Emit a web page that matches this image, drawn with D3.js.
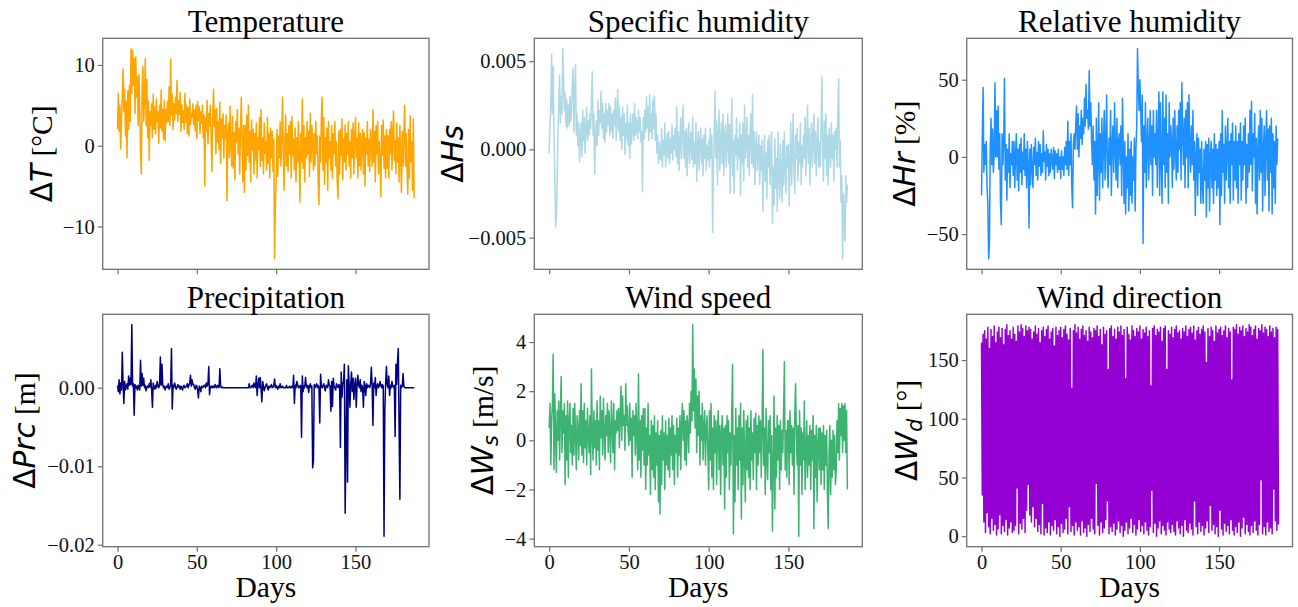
<!DOCTYPE html>
<html><head><meta charset="utf-8">
<script src="https://cdn.jsdelivr.net/npm/d3@7"></script>
<style>html,body{margin:0;padding:0;background:#fff}svg{display:block}</style>
</head><body>
<svg id="chart" width="1298" height="607"></svg>
<script>
// ---------------- data (two samples per day, day 0 .. 187) ----------------
const temperature = [
2.1,6.5,1.8,5.0,-0.4,3.5,6.0,9.5,4.2,7.0,1.2,5.5,-1.5,6.8,2.0,7.5,3.0,12.0,6.5,11.8,
7.5,10.8,4.0,11.0,6.0,8.5,2.5,8.8,4.5,-0.8,-3.5,7.0,9.8,3.0,6.0,10.8,2.5,8.2,1.0,5.5,
-1.8,4.2,2.5,5.2,1.0,6.4,2.0,4.8,1.5,5.8,3.0,4.2,0.3,5.0,2.2,6.9,1.8,4.5,0.8,5.6,
0.6,4.5,2.8,5.5,3.0,7.3,2.5,10.7,3.8,6.4,2.0,5.2,3.2,6.0,4.0,8.1,3.0,5.6,3.9,6.6,
1.8,5.1,2.9,4.3,2.0,6.5,3.0,5.0,1.5,4.7,1.2,5.8,2.6,4.0,3.5,5.2,2.6,4.4,1.8,5.0,
0.9,5.5,3.1,4.8,1.5,4.2,2.8,5.0,1.0,3.8,-5.0,3.5,1.8,5.6,0.2,4.0,2.5,5.0,1.0,-3.2,
3.5,7.0,2.4,4.5,-1.0,4.6,0.5,3.0,-0.5,5.4,-2.2,3.3,1.0,4.0,-1.5,2.5,1.0,3.8,-6.8,1.5,
2.8,-1.5,4.9,0.3,-2.5,3.6,-2.8,1.6,-4.2,3.0,0.5,4.5,-1.0,2.2,-3.5,1.8,6.0,0.8,-4.5,2.5,
-5.8,2.5,-3.0,3.8,-1.2,5.0,-2.0,1.8,-4.5,3.2,-0.5,2.0,-3.5,1.5,-1.8,2.8,-4.0,1.0,-0.5,3.5,
-2.6,4.5,-1.8,1.0,-3.5,2.8,-1.0,0.5,-3.0,3.5,-2.2,1.5,-4.0,2.2,-1.5,1.8,-3.2,0.8,-14.0,-7.5,
-4.0,2.0,-3.8,1.2,-1.5,3.0,-2.5,0.8,6.0,-1.0,-5.5,0.5,3.8,-2.5,1.5,-3.2,2.5,-1.0,3.0,-4.0,
3.6,-1.2,0.8,-3.0,2.2,-4.5,1.0,-2.0,3.0,-1.5,-7.0,1.5,-2.0,5.8,-2.8,2.5,-4.5,1.0,-1.5,3.0,
-1.0,1.8,-3.8,4.0,-2.0,2.5,0.6,-3.0,1.5,-2.5,3.0,-1.0,1.2,-4.5,-7.3,1.2,-2.0,3.5,6.0,-3.0,
3.5,-4.8,1.0,-2.0,2.2,-5.5,3.0,-1.5,0.5,-3.0,2.5,-4.0,1.5,-1.0,3.0,-2.5,0.5,-4.5,-6.6,1.8,
-3.5,2.0,-1.2,3.3,-4.2,0.8,-2.0,2.6,-3.0,1.5,-1.0,3.0,-2.5,0.5,-4.0,2.0,-1.5,2.8,-3.5,1.0,
3.5,-1.5,1.0,-4.0,2.8,-2.5,1.5,-3.0,0.5,2.0,-3.5,1.6,-5.0,1.0,-1.0,3.0,-2.5,0.8,-3.2,2.0,
0.5,-2.5,4.5,-2.0,1.8,-4.5,2.5,-1.0,3.0,-3.5,0.5,-2.0,-6.3,2.5,-1.2,3.2,-2.8,1.2,-4.0,2.0,
-2.8,1.2,-4.0,2.0,-1.0,3.0,-3.0,1.5,4.3,-1.8,0.6,-3.5,2.8,-2.0,1.0,-4.5,2.5,-1.5,-5.8,1.8,
-2.5,1.5,5.0,-2.5,1.5,-3.0,-6.0,2.0,-4.0,3.7,-2.0,0.5,-5.5,3.3,-6.5];

const specificHumidity = [
-0.0002,0.0015,0.0025,0.0054,0.0020,0.0047,0.0010,-0.0015,-0.0044,-0.0037,-0.0020,0.0010,0.0025,0.0042,0.0015,0.0030,0.0020,0.0057,0.0040,0.0022,
0.0032,0.0013,0.0028,0.0012,0.0025,0.0014,0.0030,0.0016,0.0022,0.0038,0.0046,0.0010,0.0032,0.0048,0.0008,0.0020,0.0002,0.0015,-0.0007,0.0006,
0.0015,-0.0004,0.0022,0.0005,0.0018,-0.0002,0.0012,0.0024,0.0005,0.0016,0.0008,0.0020,0.0012,0.0028,0.0044,0.0008,0.0020,-0.0014,0.0005,0.0016,
0.0002,0.0028,0.0008,0.0022,0.0015,0.0033,0.0012,0.0026,0.0006,0.0020,0.0004,0.0026,0.0010,0.0022,0.0014,0.0026,0.0008,0.0024,0.0010,0.0020,
0.0006,0.0022,0.0014,0.0029,0.0005,0.0020,0.0034,0.0010,0.0024,0.0005,0.0018,0.0000,0.0024,0.0008,0.0020,-0.0003,0.0015,0.0006,0.0025,0.0002,
0.0015,-0.0005,0.0020,0.0003,0.0012,0.0020,0.0005,0.0026,0.0008,0.0018,0.0012,0.0006,0.0022,0.0010,0.0018,0.0004,0.0010,-0.0024,0.0018,0.0006,
0.0022,0.0010,0.0030,0.0012,0.0024,0.0005,0.0031,0.0010,0.0020,0.0006,0.0028,0.0012,0.0030,0.0005,0.0020,-0.0002,0.0008,-0.0008,0.0004,-0.0005,
-0.0006,0.0012,-0.0010,0.0005,-0.0003,0.0015,-0.0010,0.0002,0.0009,-0.0005,0.0010,-0.0008,0.0006,-0.0002,0.0014,-0.0006,0.0008,0.0000,0.0012,-0.0004,
0.0024,-0.0008,0.0010,-0.0012,0.0003,0.0018,-0.0005,0.0012,0.0025,-0.0005,0.0010,-0.0010,0.0012,-0.0015,0.0006,0.0015,-0.0008,0.0004,0.0010,-0.0006,
0.0018,-0.0010,0.0004,-0.0008,0.0015,-0.0018,0.0002,0.0010,-0.0012,0.0005,0.0012,-0.0008,0.0006,-0.0015,0.0008,-0.0005,0.0012,-0.0012,0.0002,-0.0006,
0.0005,-0.0010,0.0012,-0.0005,0.0008,-0.0047,-0.0010,0.0010,0.0033,-0.0005,0.0016,-0.0020,0.0007,0.0022,-0.0012,0.0003,0.0015,-0.0008,0.0020,-0.0015,
0.0006,0.0014,-0.0010,0.0005,0.0020,-0.0008,0.0014,-0.0025,0.0006,0.0029,-0.0015,0.0005,-0.0025,0.0008,-0.0003,0.0018,-0.0012,0.0006,-0.0005,0.0015,
-0.0026,0.0008,-0.0008,0.0015,-0.0018,0.0025,-0.0005,0.0004,0.0018,-0.0010,0.0008,-0.0015,0.0012,0.0020,-0.0008,0.0031,-0.0010,0.0010,-0.0020,0.0002,
0.0010,-0.0012,-0.0002,0.0008,-0.0020,0.0002,-0.0012,0.0005,-0.0035,-0.0010,0.0008,-0.0018,-0.0002,-0.0028,0.0005,-0.0010,0.0008,-0.0020,-0.0005,0.0010,
-0.0042,-0.0010,-0.0032,0.0006,-0.0022,-0.0005,-0.0035,0.0010,-0.0015,-0.0028,0.0003,-0.0015,-0.0030,0.0005,-0.0020,0.0010,-0.0012,-0.0025,0.0002,-0.0010,
0.0003,-0.0032,-0.0008,0.0015,-0.0020,-0.0002,0.0020,-0.0012,-0.0025,0.0008,-0.0005,0.0012,-0.0018,0.0004,-0.0008,0.0015,-0.0020,0.0002,-0.0010,0.0008,
-0.0005,0.0018,-0.0015,0.0005,0.0025,-0.0008,0.0012,-0.0020,0.0002,0.0015,-0.0010,0.0006,0.0020,-0.0008,0.0010,-0.0015,0.0005,0.0018,-0.0010,0.0004,
-0.0010,0.0015,0.0041,0.0000,-0.0018,0.0016,-0.0005,0.0020,-0.0015,0.0008,-0.0020,0.0012,0.0002,-0.0010,0.0015,-0.0005,0.0008,-0.0018,0.0010,0.0000,
0.0012,-0.0010,0.0020,0.0040,-0.0010,0.0005,-0.0030,-0.0015,-0.0062,-0.0025,-0.0040,-0.0052,-0.0015,-0.0030,-0.0020];

const relativeHumidity = [
-25,13,45,-10,8,-5,10,-20,-30,-66,-57,5,25,-5,18,-10,2,48,0,30,
0,33,-8,15,-30,-44,15,-5,10,51,-15,8,-28,5,-10,15,-20,2,-5,10,
-12,10,-20,2,15,-15,5,-22,8,-10,12,-18,3,-8,15,-12,5,-20,10,-5,
-46,5,-18,8,-8,-20,6,-5,12,-12,3,-15,10,-6,8,-12,2,-10,17,-3,
3,-15,8,-6,5,-12,2,-10,5,-3,-8,6,-14,4,-5,2,-10,5,-8,0,
-14,4,-8,0,-12,6,-5,10,-8,23,-12,10,-5,15,-20,-33,8,15,5,20,
33,5,28,0,20,12,30,8,25,15,38,20,47,25,30,18,56,20,35,10,
-5,20,-15,10,-37,25,-25,0,35,-28,15,-10,25,-20,10,30,-15,8,40,-10,
-20,12,-5,30,-25,8,20,-10,35,5,-15,25,-20,10,15,-5,20,-25,38,5,
-30,10,-37,0,-20,15,-35,5,-25,10,-30,0,-15,12,-35,5,20,70,45,30,
50,30,10,40,-56,20,-10,35,-20,10,25,-15,5,30,-5,20,-25,30,0,15,
-5,30,-20,15,42,-25,35,0,-30,42,-5,25,-20,40,-10,15,-30,35,0,20,
10,-20,25,-8,30,5,-15,20,-10,30,5,35,-15,48,15,-5,25,-20,30,0,
35,-20,40,5,-10,20,-5,30,-15,10,-38,0,15,-25,12,-10,5,-30,10,-20,
-30,5,-15,10,-39,8,-20,12,-35,0,10,-20,5,-30,15,-15,8,-25,5,-20,
10,-44,15,-25,30,-10,8,-30,20,-15,5,25,-20,10,-30,15,-5,22,-28,10,
-15,20,-20,10,-30,15,-5,22,-28,10,-15,20,-5,25,-30,8,-20,15,-10,30,
-5,36,-22,15,0,28,-30,12,-37,5,20,-15,30,-10,25,-35,5,20,-25,10,
30,-15,18,-35,20,-10,25,-37,15,-20,10,-30,20,-5,12];

const precipitation = [
0.0003,-0.0005,0.0010,-0.0008,0.0006,-0.0003,0.0045,0.0005,-0.0020,0.0008,-0.0003,0.0002,0.0005,-0.0002,0.0015,0.0003,0.0012,0.0004,0.0080,0.0002,
0.0005,-0.0035,0.0004,0,0.0002,-0.0003,0.0003,0,-0.0003,0.0035,0.0002,0.0018,0.0003,0.0012,0,0.0003,-0.0004,0.0001,0.0002,0,
0.0005,0.0001,0.0010,-0.0003,-0.0025,0.0006,0,-0.0002,0.0003,0,0.0008,0.0002,0,0.0004,0.0039,0.0003,0.0030,0.0004,0,0.0002,
-0.0003,0.0001,0.0002,0,0.0005,-0.0002,0,0.0003,0.0050,-0.0027,0.0003,0,0.0006,0.0002,-0.0002,0,0.0004,0.0001,0.0002,-0.0002,
0.0002,0,-0.0003,0.0002,0.0003,0,0.0001,0.0002,0.0005,0,0.0003,0.0006,0.0016,0.0002,0.0010,0.0004,0.0004,0,-0.0002,0.0003,
0.0002,-0.0003,-0.0013,0.0002,0,-0.0005,0.0002,0,0.0001,0.0003,0.0003,0,0.0006,0.0002,0.0005,0.0027,-0.0009,0.0002,0,0.0002,
0,0.0002,0,0.0004,0.0001,0,0.0003,0.0002,0,0.0024,0.0002,0,0.0001,0,0,0,0,0,0,0,
0,0,0,0,0,0,0,0,0,0,0,0,0,0,0,0,0,0,0,0,
0,0,0,0,0,0,0.0005,0,0,0.0002,0.0003,0,0.0006,0.0002,0,0.0015,-0.0010,0.0003,0.0012,0,
0.0013,-0.0003,-0.0018,0.0008,0.0002,-0.0004,0,0.0003,0.0005,0,-0.0003,0.0002,0,0.0002,0.0004,0,0.0001,0.0003,0.0011,0,
0.0003,0,-0.0002,0.0002,0,0.0005,0,0,0.0002,0,0,0,0,0.0003,0,0,0,0.0002,0,0,
0.0002,0,0.0016,-0.0020,0.0003,0,0.0008,0.0004,0,0.0002,0,0.0003,-0.0063,0.0015,-0.0005,0.0002,0,0.0013,0.0003,0,
0.0003,-0.0006,0.0002,0.0005,0,0.0002,-0.0102,-0.0093,0.0004,0,0.0002,0.0005,0,0.0003,0,-0.0045,0.0017,0.0003,0,0.0002,
0.0005,0,-0.0004,0.0003,0.0002,0,0.0010,0.0003,0.0002,-0.0030,0.0008,-0.0024,0.0012,0.0002,0,-0.0003,0.0005,0.0002,0,0.0004,
0.0003,-0.0076,0.0020,-0.0012,0.0005,0.0008,0.0030,-0.0160,-0.0070,0.0010,-0.0120,0.0028,0.0005,-0.0025,0.0004,0.0020,-0.0005,0.0012,-0.0015,0.0003,
0.0012,-0.0025,0.0003,0.0016,0.0003,0,0.0010,-0.0005,0.0003,0,-0.0025,0.0008,0.0002,-0.0010,0.0005,0,0.0003,0.0002,0,0.0005,
0.0026,0.0003,-0.0048,0.0006,0,0.0013,-0.0010,0.0002,0.0005,0,0.0002,0.0008,0.0003,0,0.0004,0.0002,-0.0189,-0.0030,0.0005,0.0027,
0.0004,0,0.0015,-0.0010,0.0003,0,0.0008,0.0002,0,0.0003,-0.0062,0.0030,0.0004,0.0033,0.0050,-0.0053,-0.0142,0.0003,0,0.0002,
0.0018,0.0002,0,0,0,0,0,0,0,0,0,0,0,0,0];

const windSpeed = [
0.5,1.5,-1.0,0.8,1.5,3.5,-1.2,1.9,0.2,-1.3,1.2,0.0,1.6,-0.8,1.0,2.6,-0.5,1.2,0.3,1.5,
-1.8,1.0,-0.8,1.6,-1.5,0.8,1.5,-0.5,0.6,-1.0,1.3,-0.6,1.5,0.2,-1.2,1.0,0.5,-0.8,1.2,-0.2,
2.3,-0.6,1.2,-0.9,1.5,-0.3,0.8,-1.0,1.3,0.2,-0.5,1.0,-1.4,2.9,0.2,-0.8,1.2,-0.3,0.8,-1.0,
1.6,-0.4,0.8,-1.2,1.8,0.1,1.2,-0.6,1.7,0.3,-0.8,1.0,0.2,1.5,-0.5,1.2,0.4,-0.9,1.6,0.6,
-0.5,1.5,-1.2,0.8,0.3,1.2,0.4,1.3,-0.3,1.0,2.2,0.0,1.8,0.6,1.0,-0.4,2.3,0.6,1.4,0.3,
-0.2,1.5,0.0,0.9,-1.5,1.2,0.2,1.0,-0.6,1.5,0.3,-1.2,2.7,-0.8,0.8,-1.5,1.0,-0.4,1.3,-1.0,
1.3,-2.0,0.5,-1.0,1.5,-0.6,0.2,-2.2,0.8,-1.2,0.6,-1.5,1.0,-2.0,0.3,-1.0,0.8,-2.5,0.2,-3.0,
0.4,-1.8,1.0,-0.8,0.3,-2.0,0.8,-1.0,0.2,-1.2,0.9,-1.5,0.5,-0.6,1.0,-1.2,0.6,-1.8,0.2,-0.5,
0.9,-1.5,0.5,-0.6,1.0,-1.2,0.6,1.5,0.0,1.2,-0.8,0.8,-1.0,1.0,0.5,-0.5,1.5,0.3,2.0,0.8,
4.7,1.2,2.9,0.5,2.5,-0.5,1.8,0.2,2.0,-1.0,1.0,0.0,1.5,-0.8,0.6,1.2,-1.0,0.5,1.0,-0.5,
-2.0,1.2,-0.8,1.5,-1.5,0.5,-2.0,1.0,-0.5,0.8,-1.8,0.4,1.2,-1.2,0.6,-2.2,0.3,1.0,-1.0,0.5,
-2.8,0.6,-1.5,1.0,-0.5,0.8,-2.0,0.3,-1.0,1.2,3.1,-3.8,0.2,-2.5,1.3,-1.0,0.5,-2.0,1.0,-0.8,
1.5,-3.2,0.5,-1.8,1.2,-0.5,-2.5,0.8,-1.2,1.0,-1.5,0.5,-2.0,1.2,-0.8,0.3,-1.6,0.9,-0.5,1.1,
-2.0,0.6,-1.0,1.0,-0.5,0.8,-1.5,0.5,3.7,-1.0,0.5,-2.2,1.3,-0.8,-1.6,0.8,-0.5,1.0,-2.0,0.2,
-3.7,-1.0,1.8,-2.8,0.5,-1.5,1.0,-0.8,0.6,-2.0,0.8,-1.2,0.4,-0.5,1.2,3.2,-1.2,0.4,-1.5,0.8,
0.8,-1.8,1.2,-0.5,0.6,-1.0,0.5,-2.2,1.0,2.3,0.3,-1.0,0.6,-3.9,1.2,-1.0,0.5,-2.2,0.3,-0.8,
1.6,-2.0,-0.5,0.8,-1.5,0.2,-1.0,0.6,-2.0,0.4,-0.8,1.0,-3.6,0.2,-1.5,0.6,-2.5,-0.2,0.5,-1.2,
0.5,-1.8,0.3,-1.2,0.6,-2.0,0.2,-1.0,0.4,-2.2,-3.6,-0.5,0.6,-2.2,0.0,-1.5,0.4,-1.2,0.2,-1.8,
-1.2,0.8,-0.5,1.5,-0.8,1.3,0.2,1.5,-0.5,1.4,0.0,1.5,-0.5,1.2,-2.0];

const windDirection = [165,35,172,12,175,3,168,20,178,8,160,2,176,15,170,5,179,10,165,1,
174,6,178,18,169,2,177,9,163,4,176,14,180,1,171,7,175,12,168,3,
178,5,172,9,166,41,179,2,174,11,180,6,177,15,170,3,179,22,175,44,
178,18,176,12,168,25,174,8,179,15,172,4,177,10,165,2,175,28,178,1,
170,7,176,3,179,12,168,1,174,9,177,5,162,14,178,2,171,8,175,0,
178,11,169,3,176,6,179,15,172,2,167,25,177,4,126,9,175,1,180,12,
173,5,178,8,168,1,176,13,179,3,171,7,175,0,166,10,178,4,174,15,
169,6,177,2,175,45,179,9,170,1,176,12,163,3,178,7,172,14,175,30,
142,2,177,8,179,4,170,11,176,1,168,6,178,13,174,3,179,9,171,0,
176,5,134,12,178,2,172,7,167,15,179,3,175,10,170,1,177,6,174,14,
179,4,168,9,176,2,173,12,178,5,170,1,175,8,128,39,177,3,179,11,
171,0,176,7,174,13,178,2,166,9,177,5,179,1,142,12,175,6,172,3,
178,10,169,4,176,1,179,13,173,7,175,2,168,9,177,0,174,14,179,5,
170,3,176,11,178,6,173,1,179,30,167,8,175,2,178,12,172,4,176,9,
179,1,174,7,148,13,177,3,170,26,178,5,175,10,166,2,179,8,173,0,
176,22,178,6,171,1,175,11,179,4,169,9,177,2,174,14,133,5,178,1,
176,8,180,3,172,12,178,0,175,7,179,16,170,2,177,10,174,4,180,1,
178,9,171,3,176,13,179,5,168,1,177,10,175,48,180,2,173,8,178,1,
176,12,170,4,179,7,174,2,177,40,169,13,178,5,176,10];

const samplesPerDay = 2;
const dayTicks = [0, 50, 100, 150];
const titles = ["Temperature","Specific humidity","Relative humidity","Precipitation","Wind speed","Wind direction"];
const yTickValues = [[-10,0,10],[-0.005,0,0.005],[-50,0,50],[-0.02,-0.01,0],[-4,-2,0,2,4],[0,50,100,150]];
const yTickFormats = ["d",".3f","d",".2f","d","d"];
const xLabel = "Days";

// ---------------- layout / style ----------------
const series = [temperature, specificHumidity, relativeHumidity, precipitation, windSpeed, windDirection];
const colors = ["#FFA500","#ADD8E6","#1E90FF","#000080","#3CB371","#9400D3"];
const cols = [[102.7,429],[534.3,862.3],[966.7,1292.5]];
const rows = [[38.3,269.3],[314.3,546.7]];
const yLabelX = [52,463,915,35,493,917];
const SERIF = "'Liberation Serif','Times New Roman',serif";
const SANS = "'DejaVu Sans',sans-serif";
const yLabels = [
  [{t:"Δ"},{t:"T",i:1},{t:" [°C]",s:1}],
  [{t:"Δ"},{t:"Hs",i:1}],
  [{t:"Δ"},{t:"Hr",i:1},{t:" [%]",s:1}],
  [{t:"Δ"},{t:"Prc",i:1},{t:" [m]",s:1}],
  [{t:"Δ"},{t:"W",i:1},{t:"s",i:1,sub:1},{t:" [m/s]",s:1,after:1}],
  [{t:"Δ"},{t:"W",i:1},{t:"d",i:1,sub:1},{t:" [°]",s:1,after:1}]
];

const svg = d3.select("#chart");
svg.append("rect").attr("width",1298).attr("height",607).attr("fill","#fff");

const maxDay = (temperature.length-1)/samplesPerDay;
const dayPad = maxDay*0.05;

series.forEach((vals, k) => {
  const r = Math.floor(k/3), c = k%3;
  const [x0,x1] = cols[c], [y0,y1] = rows[r];
  const x = d3.scaleLinear().domain([-dayPad, maxDay+dayPad]).range([x0,x1]);
  const ext = d3.extent(vals);
  const pad = (ext[1]-ext[0])*0.05;
  const y = d3.scaleLinear().domain([ext[0]-pad, ext[1]+pad]).range([y1,y0]);
  const g = svg.append("g");

  const line = d3.line().x((d,i)=>x(i/samplesPerDay)).y(d=>y(d));
  g.append("path").datum(vals).attr("d",line).attr("fill","none")
    .attr("stroke",colors[k]).attr("stroke-width",1.5).attr("stroke-linejoin","round");

  const ya = g.append("g").attr("transform",`translate(${x0},0)`)
    .call(d3.axisLeft(y).tickValues(yTickValues[k]).tickFormat(d3.format(yTickFormats[k])).tickSize(5).tickPadding(3));
  const xa = g.append("g").attr("transform",`translate(0,${y1})`)
    .call(d3.axisBottom(x).tickValues(dayTicks).tickFormat(r===1?d3.format("d"):()=>"").tickSize(5).tickPadding(3));
  [ya,xa].forEach(a=>{
    a.select(".domain").remove();
    a.selectAll(".tick line").attr("stroke","#707070").attr("stroke-width",1.2);
    a.selectAll(".tick text").attr("fill","#111").style("font-family",SERIF).style("font-size","20.5px");
  });

  g.append("rect").attr("x",x0).attr("y",y0).attr("width",x1-x0).attr("height",y1-y0)
    .attr("fill","none").attr("stroke","#707070").attr("stroke-width",1.3);

  g.append("text").attr("x",(x0+x1)/2).attr("y",y0-6).attr("text-anchor","middle")
    .style("font-family",SERIF).style("font-size","31px").attr("fill","#000").text(titles[k]);

  if (r===1) {
    g.append("text").attr("x",(x0+x1)/2).attr("y",597).attr("text-anchor","middle")
      .style("font-family",SERIF).style("font-size","29.5px").attr("fill","#000").text(xLabel);
  }

  const yl = g.append("text").attr("text-anchor","middle")
    .attr("transform",`translate(${yLabelX[k]},${(y0+y1)/2}) rotate(-90)`)
    .style("font-size","29.5px").attr("fill","#000");
  yLabels[k].forEach(p=>{
    const ts = yl.append("tspan").text(p.t)
      .style("font-family", p.s?SERIF:SANS)
      .style("font-style", p.i?"italic":"normal");
    if (p.sub) ts.style("font-size","20.5px").attr("dy","4.5px");
    if (p.after) ts.attr("dy","-4.5px");
  });
});
</script>
</body></html>
